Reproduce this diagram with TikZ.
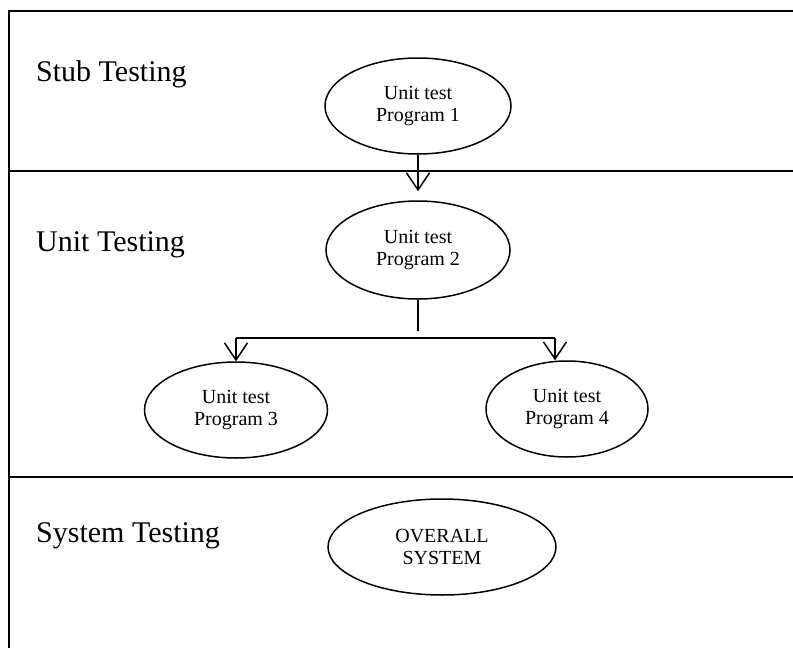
\documentclass[tikz,border=0pt]{standalone}
\usepackage{fontspec}
\setmainfont{Liberation Serif}
\usetikzlibrary{shapes.geometric,arrows.meta}
\tikzset{
  frame/.style={line width=2pt, line cap=rect},
  ell/.style={ellipse, draw, line width=1.5pt, inner sep=0pt, align=center,
    font=\fontsize{20}{22}\selectfont},
  lbl/.style={anchor=base west, inner sep=0pt, font=\fontsize{30}{33}\selectfont},
  conn/.style={line width=1.5pt},
  arr/.style={conn, -{Straight Barb[length=17pt,width=23pt,line width=1.5pt]}}
}
\begin{document}
\begin{tikzpicture}[x=1pt,y=-1pt]
\useasboundingbox (0,0) rectangle (793,648);
% frame and band separators
\coordinate (tl) at (9,11);
\coordinate (tr) at (793,11);
\coordinate (bl) at (9,648);
\coordinate (s1l) at (9,171);
\coordinate (s1r) at (793,171);
\coordinate (s2l) at (9,477);
\coordinate (s2r) at (793,477);
\draw[frame] (bl) -- (tl) -- (tr);
\draw[frame] (s1l) -- (s1r);
\draw[frame] (s2l) -- (s2r);
% band labels
\node[lbl] (l1) at (36,81) {Stub Testing};
\node[lbl] (l2) at (36,251) {Unit Testing};
\node[lbl] (l3) at (36,542) {System Testing};
% ellipses
\node[ell, minimum width=186pt, minimum height=96pt] (e1) at (418,106) {Unit test\\Program 1};
\node[ell, minimum width=184pt, minimum height=98pt] (e2) at (418,250) {Unit test\\Program 2};
\node[ell, minimum width=183pt, minimum height=96pt] (e3) at (236,410) {Unit test\\Program 3};
\node[ell, minimum width=162pt, minimum height=96pt] (e4) at (567,409) {Unit test\\Program 4};
\node[ell, minimum width=228pt, minimum height=96pt] (e5) at (442,547) {OVERALL\\SYSTEM};
% connectors
\draw[arr, shorten >=9pt] (e1.south) -- (e2.north);
\coordinate (stem) at (418,331);
\coordinate (jl) at (236,338);
\coordinate (jr) at (555,338);
\draw[conn] (e2.south) -- (stem);
\draw[conn] (jl) -- (jr);
\draw[arr] (jl) -- (e3.north);
\draw[arr] (jr) -- (jr |- e4.north);
\end{tikzpicture}
\end{document}
